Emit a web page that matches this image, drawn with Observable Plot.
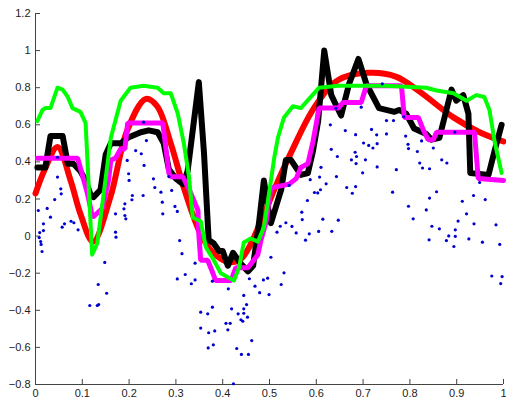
<!DOCTYPE html>
<html><head><meta charset="utf-8">
<script src="https://cdn.jsdelivr.net/npm/d3@7"></script>
<script src="https://cdn.jsdelivr.net/npm/@observablehq/plot@0.6"></script>
<style>html,body{margin:0;padding:0;background:#fff;overflow:hidden}svg{display:block}</style>
</head><body><div id="chart"></div>
<script>
const xTicks = [0, 0.1, 0.2, 0.3, 0.4, 0.5, 0.6, 0.7, 0.8, 0.9, 1];
const yTicks = [-0.8, -0.6, -0.4, -0.2, 0, 0.2, 0.4, 0.6, 0.8, 1, 1.2];

// noisy samples (blue dots)
const dotX = [0.006,0.008,0.009,0.011,0.012,0.014,0.017,0.017,0.025,0.032,0.041,0.047,0.047,0.054,0.055,0.057,0.062,0.076,0.082,0.091,
0.116,0.132,0.135,0.134,0.148,0.152,0.171,0.171,0.172,0.191,0.189,0.191,0.193,0.196,0.199,0.200,0.207,0.206,0.214,0.226,
0.231,0.232,0.237,0.230,0.252,0.255,0.268,0.271,0.272,0.285,0.291,0.298,0.303,0.303,0.308,0.313,0.320,0.333,0.341,0.341,
0.353,0.353,0.368,0.370,0.369,0.378,0.378,0.380,0.383,0.407,0.411,0.412,0.416,0.419,0.423,0.430,0.433,0.439,0.440,0.443,
0.445,0.445,0.445,0.451,0.453,0.455,0.457,0.462,0.469,0.479,0.487,0.496,0.499,0.503,0.516,0.523,0.525,0.531,0.535,0.542,
0.548,0.557,0.569,0.570,0.577,0.581,0.585,0.587,0.596,0.603,0.605,0.607,0.609,0.610,0.614,0.621,0.630,0.632,0.633,0.643,
0.642,0.645,0.647,0.662,0.665,0.675,0.677,0.684,0.683,0.684,0.686,0.685,0.696,0.699,0.701,0.705,0.712,0.718,0.721,0.729,
0.730,0.730,0.741,0.750,0.750,0.763,0.765,0.771,0.787,0.791,0.796,0.797,0.797,0.807,0.816,0.821,0.825,0.827,0.835,0.842,
0.842,0.841,0.847,0.850,0.857,0.863,0.868,0.879,0.878,0.883,0.896,0.897,0.897,0.894,0.903,0.912,0.921,0.926,0.937,0.936,
0.949,0.955,0.961,0.975,0.984,0.992,0.994,0.997];
const dotY = [0.138,-0.008,0.019,-0.029,-0.045,-0.083,0.066,0.030,0.149,0.102,0.197,0.425,0.318,0.255,0.228,0.048,0.066,0.080,0.072,0.034,
-0.374,-0.374,-0.369,-0.261,-0.142,-0.308,0.120,0.021,-0.006,0.174,0.147,0.111,0.093,0.408,0.336,0.300,0.219,0.196,0.461,0.444,
0.614,0.381,0.515,0.219,0.309,0.262,0.237,0.183,0.120,0.321,0.246,0.160,0.133,-0.231,-0.024,-0.095,-0.207,-0.257,-0.146,-0.236,
-0.410,-0.496,-0.419,-0.521,-0.603,-0.243,-0.383,-0.586,-0.511,-0.470,-0.505,-0.284,-0.470,-0.392,-0.796,-0.606,-0.419,-0.451,-0.638,-0.459,
-0.320,-0.392,-0.416,-0.369,-0.437,-0.638,-0.230,-0.563,-0.270,-0.305,-0.236,-0.227,-0.315,-0.114,0.021,0.053,-0.261,-0.198,0.072,0.273,
0.052,0.017,0.129,0.089,-0.022,0.192,0.012,0.304,0.235,0.233,0.025,0.318,0.250,0.371,0.091,0.282,0.600,0.468,0.026,0.321,
0.689,0.429,0.086,0.569,0.262,0.411,0.231,0.547,0.452,0.267,0.429,0.391,0.695,0.341,0.502,0.411,0.489,0.575,0.475,0.546,
0.498,0.373,0.821,0.623,0.551,0.237,0.623,0.358,0.644,0.539,0.495,0.472,0.161,0.093,0.456,0.394,0.513,0.367,0.141,0.363,
0.205,-0.020,0.053,0.475,0.239,0.039,0.411,0.394,-0.024,0.001,0.560,0.034,-0.001,-0.056,0.081,0.188,0.120,-0.015,0.066,0.219,
0.289,-0.033,0.197,-0.215,0.061,-0.045,-0.256,-0.218];

// smooth fit (red)
const redX = [0,0.02,0.047,0.075,0.096,0.123,0.16,0.196,0.236,0.26,0.289,0.317,0.353,0.38,0.413,0.44,0.482,0.51,0.546,0.595,0.646,0.71,0.77,0.82,0.893,0.949,1.0];
const redY = [0.23,0.36,0.48,0.30,0.12,-0.03,0.21,0.57,0.74,0.70,0.50,0.26,0.01,-0.09,-0.14,-0.12,0.08,0.25,0.45,0.69,0.84,0.88,0.86,0.78,0.64,0.56,0.51];

// black estimate
const blackX = [0.004,0.021,0.032,0.058,0.069,0.081,0.096,0.107,0.118,0.124,0.139,0.150,0.161,0.182,0.197,0.225,0.242,0.261,0.274,0.285,0.300,0.315,0.325,0.349,0.360,0.370,0.381,0.392,0.400,0.411,0.422,0.439,0.454,0.465,0.478,0.488,0.497,0.503,0.525,0.535,0.546,0.567,0.582,0.593,0.604,0.617,0.632,0.653,0.670,0.690,0.707,0.734,0.767,0.777,0.792,0.809,0.835,0.846,0.863,0.874,0.889,0.899,0.914,0.925,0.929,0.968,0.981,0.996];
const blackY = [0.37,0.37,0.54,0.54,0.39,0.39,0.35,0.30,0.22,0.21,0.25,0.44,0.50,0.50,0.53,0.56,0.57,0.56,0.50,0.36,0.31,0.28,0.35,0.83,0.45,-0.02,-0.04,-0.08,-0.08,-0.16,-0.09,-0.15,-0.19,-0.16,0.08,0.30,0.15,0.07,0.25,0.41,0.41,0.33,0.34,0.46,0.62,1.0,0.76,0.65,0.82,0.955,0.82,0.69,0.67,0.68,0.66,0.58,0.55,0.52,0.53,0.64,0.79,0.73,0.76,0.66,0.34,0.33,0.46,0.60];

// step estimate (magenta)
const magX = [0.004,0.090,0.111,0.122,0.143,0.156,0.161,0.171,0.182,0.191,0.197,0.272,0.285,0.289,0.315,0.332,0.347,0.349,0.353,0.368,0.379,0.385,0.418,0.428,0.454,0.475,0.482,0.493,0.503,0.542,0.557,0.567,0.582,0.593,0.606,0.647,0.657,0.696,0.707,0.782,0.788,0.818,0.829,0.839,0.850,0.857,0.938,0.946,1.0];
const magY = [0.42,0.42,0.23,0.10,0.15,0.30,0.41,0.42,0.47,0.47,0.61,0.61,0.34,0.32,0.32,0.23,0.14,0.01,-0.13,-0.13,-0.20,-0.24,-0.24,-0.17,-0.17,-0.10,-0.02,0.08,0.26,0.28,0.31,0.37,0.39,0.51,0.69,0.69,0.72,0.72,0.81,0.81,0.64,0.64,0.57,0.52,0.52,0.56,0.56,0.31,0.30];

// envelope estimate (green)
const greenX = [0.004,0.015,0.021,0.032,0.047,0.058,0.069,0.079,0.096,0.107,0.121,0.132,0.161,0.182,0.203,0.231,0.261,0.274,0.289,0.304,0.317,0.328,0.336,0.353,0.364,0.381,0.396,0.424,0.435,0.445,0.460,0.475,0.488,0.499,0.510,0.518,0.531,0.550,0.567,0.606,0.647,0.749,0.835,0.857,0.893,0.921,0.942,0.959,0.970,0.981,0.996];
const greenY = [0.62,0.68,0.69,0.69,0.80,0.79,0.75,0.69,0.67,0.61,-0.10,-0.04,0.53,0.73,0.80,0.81,0.80,0.77,0.77,0.66,0.50,0.32,0.10,0.08,-0.06,-0.13,-0.20,-0.24,-0.17,-0.035,-0.013,-0.03,0.047,0.23,0.42,0.53,0.64,0.70,0.69,0.80,0.81,0.81,0.80,0.785,0.77,0.73,0.76,0.75,0.68,0.51,0.34];

const pts = (xs, ys) => xs.map((x, i) => ({x, y: ys[i]}));
const fmt = d => String(d).replace("-", "\u2212");

const W = 506, H = 399, mL = 35, mR = 3, mT = 13, mB = 15;
const tick = 5;

const chart = Plot.plot({
  width: W, height: H,
  marginLeft: mL, marginRight: mR, marginTop: mT, marginBottom: mB,
  x: {domain: [0, 1]},
  y: {domain: [-0.8, 1.2]},
  style: {fontFamily: "'Liberation Sans', Arial, sans-serif", fontSize: "11px", color: "#222", background: "#fff"},
  marks: [
    Plot.axisX({ticks: xTicks, tickSize: 0, tickPadding: 5, tickFormat: fmt, label: null}),
    Plot.axisY({ticks: yTicks, tickSize: 0, tickPadding: 5, tickFormat: fmt, label: null}),
    Plot.tickX(xTicks, {x: d => d, stroke: "#444", insetTop: H - mT - mB - tick}),
    Plot.tickY(yTicks, {y: d => d, stroke: "#444", insetRight: W - mL - mR - tick}),
    Plot.ruleX([0], {stroke: "#444"}),
    Plot.ruleY([-0.8], {stroke: "#444"}),
    Plot.line(pts(redX, redY), {x: "x", y: "y", stroke: "#ff0000", strokeWidth: 6, curve: "catmull-rom"}),
    Plot.line(pts(blackX, blackY), {x: "x", y: "y", stroke: "#000", strokeWidth: 6}),
    Plot.line(pts(magX, magY), {x: "x", y: "y", stroke: "#ff00ff", strokeWidth: 5, strokeLinejoin: "miter"}),
    Plot.line(pts(greenX, greenY), {x: "x", y: "y", stroke: "#00ff00", strokeWidth: 4}),
    Plot.dot(pts(dotX, dotY), {x: "x", y: "y", r: 1.6, fill: "#0000d0", stroke: "none"})
  ]
});
document.getElementById("chart").appendChild(chart);
</script>
</body></html>
